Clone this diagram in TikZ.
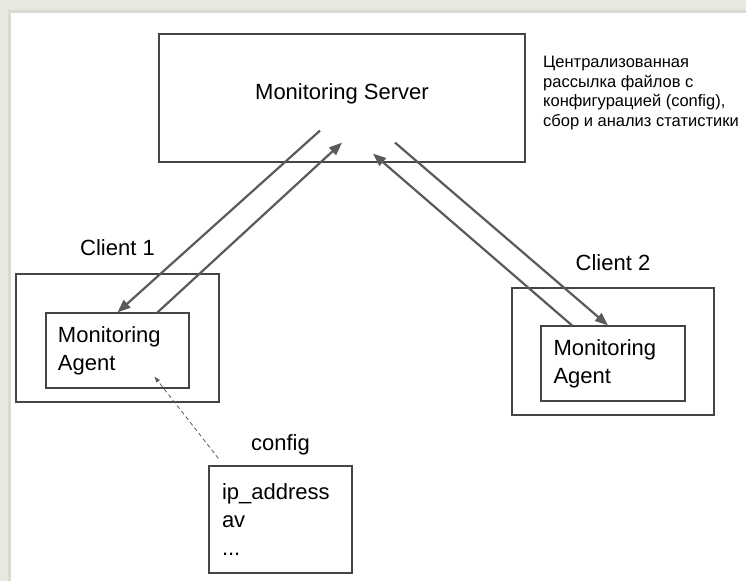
\documentclass[tikz,border=0pt]{standalone}
\usepackage{fontspec}
\setmainfont{Liberation Sans}
\usetikzlibrary{arrows.meta, positioning}

\definecolor{framegray}{HTML}{E8E8E1}
\definecolor{framedark}{HTML}{DADAD0}
\definecolor{linegray}{HTML}{5A5A5A}
\definecolor{boxgray}{HTML}{454545}

\begin{document}
\begin{tikzpicture}[
        x=1bp, y=-1bp,
        >={Triangle[length=13bp, width=10bp]},
        every node/.style={font=\fontsize{22bp}{28bp}\selectfont, inner sep=0pt},
        box/.style={draw=boxgray, line width=1.2bp, rectangle, align=left},
        agent/.style={box, minimum width=143bp, minimum height=75bp, text width=119bp},
        client/.style={box, minimum width=203bp, minimum height=128bp},
        flow/.style={->, draw=linegray, line width=2.2bp},
        cfgflow/.style={-{Triangle[length=6bp, width=4bp]}, draw=linegray, line width=0.8bp, dash pattern=on 4bp off 3bp},
        note/.style={font=\fontsize{16.5bp}{19.5bp}\selectfont, align=left}
    ]
        \useasboundingbox (0,0) rectangle (746,581);
        % frame
        \fill[framegray] (0,0) rectangle (746,581);
        \fill[framedark] (8,10) rectangle (11,581);
        \fill[framedark] (8,10) rectangle (746,13);
        \fill[white] (11,13) rectangle (746,581);

        % Nodes
        \node [box, minimum width=366bp, minimum height=128bp, align=center,
               text height=16bp, text depth=12bp] (server) at (342,98) {Monitoring Server};
        \node [note, anchor=north west] (note) at (543,56)
            {Централизованная\\рассылка файлов с\\конфигурацией (config),\\сбор и анализ статистики};

        \node [client] (client1) at (117.5,338) {};
        \node [above=17bp of client1] (label1) {Client 1};
        \node [agent] (agent1) at ([yshift=-12.5bp]client1.center) {Monitoring\\Agent};

        \node [client, minimum width=202bp, minimum height=127bp] (client2) at (613,351.5) {};
        \node [above=16bp of client2] (label2) {Client 2};
        \node [agent, minimum width=144bp] (agent2) at ([yshift=-12bp]client2.center) {Monitoring\\Agent};

        \node [box, minimum width=143bp, minimum height=107bp, text width=117bp] (config) at (280.5,519.5)
            {ip\_address\\av\\...};
        \node [above=10bp of config] (cfglabel) {config};

        % Arrows
        \draw [flow] ([xshift=-22bp, yshift=32bp]server.south) -- (agent1.north);
        \draw [flow] ([xshift=40bp]agent1.north) -- ([yshift=20bp]server.south);
        \draw [flow] ([xshift=-41bp]agent2.north) -- ([xshift=31bp, yshift=9bp]server.south);
        \draw [flow] ([xshift=53bp, yshift=20bp]server.south) -- ([xshift=-5bp]agent2.north);

        % config
        \draw [cfgflow] ([xshift=10bp, yshift=7bp]config.north west) -- ([xshift=37bp, yshift=12bp]agent1.south);
\end{tikzpicture}
\end{document}
